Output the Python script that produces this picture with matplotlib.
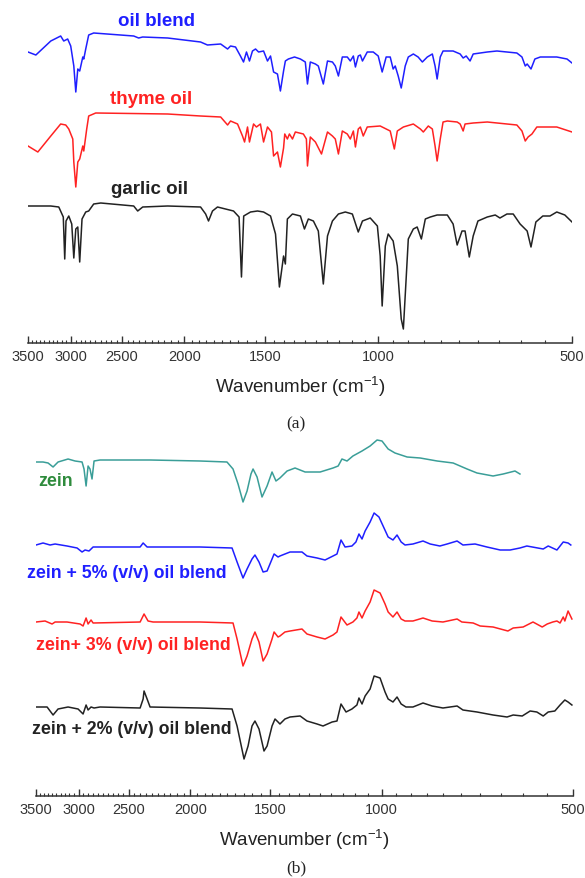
import matplotlib
matplotlib.use("Agg")
import matplotlib.pyplot as plt
import numpy as np
from matplotlib.ticker import FixedLocator, NullFormatter

plt.rcParams['font.family'] = ['Liberation Sans', 'DejaVu Sans']
plt.rcParams['mathtext.default'] = 'regular'

# (a) pure oils: (wavenumber cm-1, transmittance a.u.)
oil_blend = [(3500, 291), (3403, 288), (3226, 302), (3114, 307), (3080, 302), (3037, 304), (3004, 297),
             (2971, 277), (2950, 251), (2929, 274), (2909, 272), (2877, 286), (2867, 284), (2847, 294),
             (2817, 308), (2767, 310), (2398, 307), (2356, 305), (2322, 306), (2124, 305), (1888, 301),
             (1842, 298), (1757, 299), (1714, 294), (1696, 297), (1666, 296), (1637, 287), (1619, 281),
             (1602, 291), (1585, 282), (1568, 292), (1551, 294), (1534, 291), (1507, 292), (1486, 282),
             (1470, 287), (1454, 271), (1434, 269), (1419, 252), (1403, 272), (1394, 282), (1379, 284),
             (1349, 286), (1321, 284), (1298, 281), (1288, 259), (1275, 281), (1252, 279), (1239, 277),
             (1217, 259), (1199, 282), (1178, 281), (1166, 277), (1153, 267), (1137, 286), (1117, 286),
             (1105, 282), (1093, 287), (1085, 276), (1074, 287), (1066, 288), (1058, 282), (1040, 291),
             (1018, 291), (1000, 287), (986, 271), (972, 286), (958, 286), (948, 274), (941, 277),
             (931, 267), (921, 255), (908, 277), (898, 286), (882, 289), (867, 286), (854, 281),
             (839, 286), (824, 289), (816, 277), (810, 264), (801, 286), (793, 292), (765, 292),
             (746, 289), (738, 285), (730, 287), (720, 282), (712, 289), (677, 291), (654, 292),
             (609, 290), (598, 286), (591, 277), (587, 279), (579, 274), (571, 284), (560, 286),
             (528, 286), (509, 284), (500, 280)]

thyme_oil = [(3500, 197), (3379, 191), (3226, 207), (3114, 219), (3058, 218), (3025, 214), (2982, 204),
             (2971, 181), (2950, 156), (2929, 181), (2909, 184), (2877, 197), (2867, 192), (2837, 214),
             (2817, 227), (2747, 230), (2124, 229), (1888, 227), (1757, 226), (1714, 218), (1696, 222),
             (1654, 219), (1625, 207), (1613, 201), (1596, 216), (1585, 201), (1562, 219), (1546, 216),
             (1524, 219), (1507, 201), (1486, 216), (1465, 211), (1454, 187), (1434, 191), (1419, 176),
             (1403, 195), (1397, 209), (1384, 204), (1374, 209), (1359, 204), (1345, 211), (1307, 209),
             (1293, 204), (1288, 177), (1275, 206), (1252, 201), (1225, 189), (1199, 211), (1178, 207),
             (1166, 204), (1153, 189), (1137, 212), (1117, 209), (1105, 204), (1093, 212), (1085, 196),
             (1074, 214), (1066, 216), (1055, 207), (1040, 216), (993, 217), (958, 212), (944, 194),
             (934, 212), (914, 216), (882, 219), (860, 214), (851, 211), (836, 217), (824, 214),
             (816, 197), (810, 182), (801, 204), (793, 221), (781, 222), (754, 221), (746, 219),
             (738, 212), (733, 219), (712, 220), (677, 221), (609, 218), (598, 212), (591, 202),
             (585, 206), (577, 209), (567, 216), (547, 216), (528, 216), (500, 211)]

garlic_oil = [(3500, 137), (3226, 137), (3135, 136), (3085, 126), (3069, 84), (3055, 122), (3025, 127),
              (2993, 119), (2971, 85), (2950, 114), (2929, 116), (2909, 81), (2885, 124), (2847, 131),
              (2817, 132), (2767, 139), (2698, 140), (2398, 137), (2364, 132), (2322, 136), (2124, 137),
              (1888, 136), (1854, 129), (1835, 122), (1809, 132), (1777, 136), (1678, 132), (1645, 126),
              (1631, 66), (1618, 127), (1579, 131), (1540, 132), (1507, 131), (1470, 127), (1444, 109),
              (1424, 56), (1403, 87), (1394, 79), (1384, 124), (1359, 129), (1321, 127), (1302, 114),
              (1284, 124), (1261, 122), (1239, 112), (1217, 59), (1199, 107), (1178, 122), (1153, 129),
              (1125, 131), (1097, 129), (1074, 111), (1058, 122), (1029, 125), (1003, 117), (993, 87),
              (986, 37), (975, 97), (965, 109), (948, 102), (934, 77), (921, 24), (914, 14), (905, 64),
              (898, 104), (882, 114), (870, 116), (857, 104), (845, 124), (830, 126), (810, 128),
              (781, 128), (765, 119), (754, 98), (741, 112), (733, 112), (722, 86), (712, 107),
              (700, 122), (677, 126), (658, 128), (647, 125), (631, 129), (617, 129), (602, 119),
              (587, 112), (579, 96), (569, 121), (555, 127), (541, 127), (528, 131), (513, 128),
              (500, 121)]

# (b) zein films
zein = [(3500, 334), (3412, 334), (3350, 333), (3290, 329), (3231, 334), (3116, 337), (3038, 335),
        (2962, 334), (2941, 327), (2919, 310), (2898, 330), (2878, 327), (2857, 317), (2836, 335),
        (2775, 336), (2315, 336), (1932, 335), (1752, 334), (1714, 327), (1683, 312), (1653, 294),
        (1629, 305), (1606, 322), (1594, 327), (1571, 319), (1543, 299), (1515, 310), (1488, 324),
        (1467, 315), (1446, 318), (1409, 325), (1369, 328), (1320, 324), (1250, 324), (1193, 328),
        (1171, 330), (1155, 337), (1134, 335), (1110, 340), (1074, 345), (1043, 350), (1017, 356),
        (999, 355), (977, 347), (953, 343), (912, 339), (870, 338), (818, 335), (772, 333),
        (734, 327), (708, 323), (668, 320), (644, 322), (617, 325), (606, 322)]

zein_5 = [(3500, 251), (3412, 253), (3326, 251), (3266, 252), (3128, 250), (3016, 248), (2962, 244),
          (2930, 246), (2888, 245), (2846, 249), (2400, 249), (2374, 253), (2340, 249), (1932, 249),
          (1720, 248), (1689, 234), (1653, 218), (1629, 227), (1600, 237), (1583, 241), (1560, 234),
          (1537, 224), (1515, 225), (1488, 237), (1477, 242), (1456, 239), (1446, 240), (1420, 242),
          (1394, 244), (1335, 244), (1311, 240), (1264, 238), (1228, 236), (1193, 240), (1176, 242),
          (1159, 256), (1142, 249), (1114, 250), (1098, 254), (1086, 262), (1074, 257), (1062, 265),
          (1043, 274), (1028, 283), (1010, 279), (995, 270), (977, 259), (960, 256), (946, 261),
          (932, 254), (919, 251), (893, 252), (861, 255), (839, 252), (810, 250), (789, 252),
          (761, 255), (745, 251), (713, 252), (683, 249), (651, 246), (628, 246), (606, 248),
          (591, 250), (557, 247), (547, 250), (530, 246), (518, 254), (509, 253), (504, 251)]

zein_3 = [(3500, 174), (3387, 175), (3302, 172), (3266, 174), (3128, 174), (2983, 172), (2951, 170),
          (2919, 178), (2898, 172), (2867, 176), (2846, 173), (2400, 174), (2366, 182), (2332, 175),
          (2290, 174), (1932, 174), (1714, 173), (1689, 157), (1653, 130), (1629, 140), (1600, 157),
          (1583, 164), (1560, 154), (1537, 135), (1515, 142), (1488, 157), (1477, 164), (1456, 159),
          (1446, 160), (1420, 164), (1394, 165), (1335, 167), (1311, 162), (1264, 159), (1228, 157),
          (1193, 161), (1176, 164), (1159, 179), (1134, 171), (1110, 174), (1094, 178), (1086, 184),
          (1074, 178), (1062, 185), (1043, 194), (1028, 206), (1006, 203), (988, 192), (977, 184),
          (960, 179), (946, 184), (932, 177), (919, 175), (893, 175), (861, 178), (833, 175),
          (801, 174), (761, 177), (748, 174), (718, 173), (700, 170), (668, 169), (633, 165),
          (621, 168), (599, 169), (578, 174), (559, 169), (549, 172), (538, 174), (530, 175),
          (524, 173), (518, 179), (515, 175), (509, 185), (502, 177)]

zein_2 = [(3500, 89), (3362, 89), (3290, 81), (3231, 87), (3116, 89), (3005, 87), (2951, 82), (2919, 91),
          (2898, 86), (2867, 89), (2836, 88), (2775, 89), (2400, 88), (2374, 97), (2366, 105),
          (2340, 97), (2315, 89), (1932, 88), (1720, 87), (1689, 70), (1647, 37), (1623, 50),
          (1600, 70), (1583, 75), (1560, 67), (1532, 45), (1515, 50), (1488, 70), (1472, 77),
          (1456, 74), (1446, 72), (1420, 77), (1394, 79), (1344, 80), (1311, 75), (1264, 72),
          (1237, 70), (1197, 74), (1176, 75), (1159, 92), (1138, 84), (1114, 87), (1094, 91),
          (1086, 98), (1074, 92), (1062, 100), (1043, 107), (1028, 120), (1006, 118), (988, 104),
          (977, 97), (960, 94), (946, 99), (932, 92), (916, 89), (893, 89), (861, 93), (833, 90),
          (801, 88), (761, 90), (745, 86), (708, 84), (668, 81), (635, 79), (621, 81), (601, 80),
          (584, 85), (570, 84), (557, 80), (547, 84), (534, 85), (524, 91), (515, 96), (509, 94),
          (502, 91)]

major_ticks = [3500, 3000, 2500, 2000, 1500, 1000, 500]
minor_ticks = [w for w in range(550, 3500, 50) if w % 500]

BLUE = '#1f1fff'
RED = '#ff2222'
BLACK = '#222222'
TEAL = '#3a9e98'


def style_axis(ax, top):
    ax.set_xscale('log')
    ax.set_xlim(3500, 500)
    ax.set_ylim(0, top)
    ax.xaxis.set_major_locator(FixedLocator(major_ticks))
    ax.xaxis.set_minor_locator(FixedLocator(minor_ticks))
    ax.xaxis.set_major_formatter(plt.FuncFormatter(lambda v, p: '%d' % v))
    ax.xaxis.set_minor_formatter(NullFormatter())
    ax.tick_params(axis='x', which='major', direction='in', length=5, width=1,
                   labelsize=10.5, pad=4, colors='#333333')
    ax.tick_params(axis='x', which='minor', direction='in', length=2.5, width=0.8, colors='#333333')
    ax.set_yticks([])
    for s in ['left', 'right', 'top']:
        ax.spines[s].set_visible(False)
    ax.spines['bottom'].set_color('#333333')
    ax.spines['bottom'].set_linewidth(1.1)
    ax.set_xlabel('Wavenumber (cm$^{-1}$)', fontsize=13.5, labelpad=8, color='#222222')
    ax.patch.set_alpha(0)


def draw(ax, series, color):
    wn, t = np.array(series, dtype=float).T
    ax.plot(wn, t, color=color, lw=1.1)


fig = plt.figure(figsize=(5.85, 8.79), dpi=100)

ax_a = fig.add_axes([28 / 585, 1 - 344 / 879, 544 / 585, 344 / 879])
draw(ax_a, oil_blend, BLUE)
draw(ax_a, thyme_oil, RED)
draw(ax_a, garlic_oil, BLACK)
style_axis(ax_a, 344)
lab = dict(fontsize=13.5, fontweight='bold', ha='center', va='center')
ax_a.text(2209, 322, 'oil blend', color=BLUE, **lab)
ax_a.text(2257, 244, 'thyme oil', color=RED, **lab)
ax_a.text(2262, 155, 'garlic oil', color=BLACK, **lab)

ax_b = fig.add_axes([36 / 585, 1 - 797 / 879, 537 / 585, 367 / 879])
draw(ax_b, zein, TEAL)
draw(ax_b, zein_5, BLUE)
draw(ax_b, zein_3, RED)
draw(ax_b, zein_2, BLACK)
style_axis(ax_b, 367)
labb = dict(fontsize=12.8, fontweight='bold', ha='center', va='center')
ax_b.text(3255, 315, 'zein', color='#2e8b3c', **labb)
ax_b.text(2516, 224, 'zein + 5% (v/v) oil blend', color=BLUE, **labb)
ax_b.text(2462, 152, 'zein+ 3% (v/v) oil blend', color=RED, **labb)
ax_b.text(2471, 67, 'zein + 2% (v/v) oil blend', color=BLACK, **labb)

cap = dict(fontsize=12.5, ha='center', va='center', family=['Liberation Serif', 'DejaVu Serif'],
           color='#222222')
fig.text(296 / 585, 1 - 424 / 879, '(a)', **cap)
fig.text(296 / 585, 1 - 868 / 879, '(b)', **cap)

fig.savefig('out.png', dpi=100)
